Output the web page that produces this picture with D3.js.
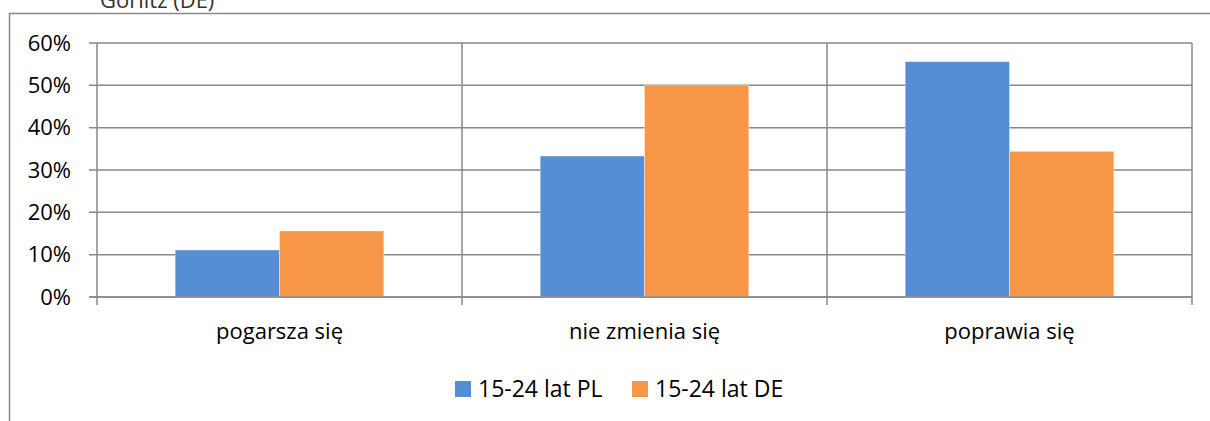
<!DOCTYPE html>
<html>
<head>
<meta charset="utf-8">
<script src="https://cdn.jsdelivr.net/npm/d3@7"></script>
<style>
  body { margin: 0; background: #fff; }
  svg { display: block; }
  text { font-family: "Open Sans", "Noto Sans", sans-serif; fill: #000; }
</style>
</head>
<body>
<div id="chart"></div>
<script>
// chart size
const width = 1210
const height = 421

// data
const categories = ["pogarsza się", "nie zmienia się", "poprawia się"]
const seriesNames = ["15-24 lat PL", "15-24 lat DE"]
const valuesPL = [0.111, 0.333, 0.556]
const valuesDE = [0.156, 0.500, 0.344]
const yTicks = [0, 0.1, 0.2, 0.3, 0.4, 0.5, 0.6]
const colors = ["#558ed5", "#f79646"]
const title = "Görlitz (DE)"

const rows = categories.map((c, i) => ({ cat: c, values: [valuesPL[i], valuesDE[i]] }))

// plot area
const plotLeft = 97, plotRight = 1192, plotTop = 43, plotBottom = 297
const gridColor = "#898989"

const svg = d3.select("#chart")
  .append("svg")
  .attr("width", width)
  .attr("height", height)

// outer frame (runs past the window on the right and bottom)
svg.append("path")
  .attr("d", `M9.5,${height + 5}V13.5H${width + 5}`)
  .attr("fill", "none")
  .attr("stroke", gridColor)
  .attr("stroke-width", 1.5)

// title, mostly cut off by the top edge (as in the source)
svg.append("text")
  .attr("x", 100)
  .attr("y", 8)
  .attr("font-size", 22)
  .style("fill", "#333")
  .text(title)

var x = d3.scaleBand()
  .domain(categories)
  .range([plotLeft, plotRight])
  .paddingInner(0)
  .paddingOuter(0)

var x1 = d3.scaleBand()
  .domain(d3.range(seriesNames.length))
  .range([0, x.bandwidth()])
  .paddingInner(0)
  .paddingOuter(0.75)

var y = d3.scaleLinear()
  .domain([0, 0.6])
  .range([plotBottom, plotTop])

// horizontal gridlines with the small ticks left of the axis
svg.append("g")
  .selectAll("line")
  .data(yTicks)
  .enter()
  .append("line")
  .attr("x1", plotLeft - 8)
  .attr("x2", plotRight)
  .attr("y1", d => y(d))
  .attr("y2", d => y(d))
  .attr("stroke", gridColor)
  .attr("stroke-width", 1.5)

// vertical lines at category boundaries, ticking below the axis
const bounds = categories.map(c => x(c)).concat([plotRight])
svg.append("g")
  .selectAll("line")
  .data(bounds)
  .enter()
  .append("line")
  .attr("x1", d => d)
  .attr("x2", d => d)
  .attr("y1", plotTop)
  .attr("y2", plotBottom + 8)
  .attr("stroke", gridColor)
  .attr("stroke-width", 1.5)

// bars
var groups = svg.append("g")
  .selectAll("g")
  .data(rows)
  .enter()
  .append("g")
  .attr("transform", d => `translate(${x(d.cat)},0)`)

groups.selectAll("rect")
  .data(d => d.values.map((v, i) => ({ v: v, i: i })))
  .enter()
  .append("rect")
  .attr("x", d => x1(d.i))
  .attr("width", x1.bandwidth())
  .attr("y", d => y(d.v))
  .attr("height", d => y(0) - y(d.v))
  .attr("fill", d => colors[d.i])
  .attr("stroke", "#fff")
  .attr("stroke-opacity", 0.35)
  .attr("stroke-width", 1)

// redraw the zero line over the bars
svg.append("line")
  .attr("x1", plotLeft - 8)
  .attr("x2", plotRight)
  .attr("y1", y(0))
  .attr("y2", y(0))
  .attr("stroke", gridColor)
  .attr("stroke-width", 1.5)

// y axis labels
var yAxis = d3.axisLeft(y)
  .tickValues(yTicks)
  .tickFormat(d3.format(".0%"))
  .tickSize(0)
  .tickPadding(0)

svg.append("g")
  .attr("transform", "translate(71,0)")
  .call(yAxis)
  .call(g => g.select(".domain").remove())
  .selectAll("text")
  .attr("font-family", null)
  .attr("font-size", 22)
  .attr("fill", null)

// category labels
var xAxis = d3.axisBottom(x)
  .tickSize(0)
  .tickPadding(0)

svg.append("g")
  .attr("transform", "translate(0,323)")
  .call(xAxis)
  .call(g => g.select(".domain").remove())
  .selectAll("text")
  .attr("font-family", null)
  .attr("font-size", 22)
  .attr("fill", null)

// legend
const legendX = [455, 632]
var legend = svg.append("g")
  .selectAll("g")
  .data(seriesNames)
  .enter()
  .append("g")
  .attr("transform", (d, i) => `translate(${legendX[i]},381)`)

legend.append("rect")
  .attr("width", 16)
  .attr("height", 16)
  .attr("fill", (d, i) => colors[i])

legend.append("text")
  .attr("x", 23)
  .attr("y", 8)
  .attr("dy", "0.36em")
  .attr("font-size", 23)
  .text(d => d)
</script>
</body>
</html>
